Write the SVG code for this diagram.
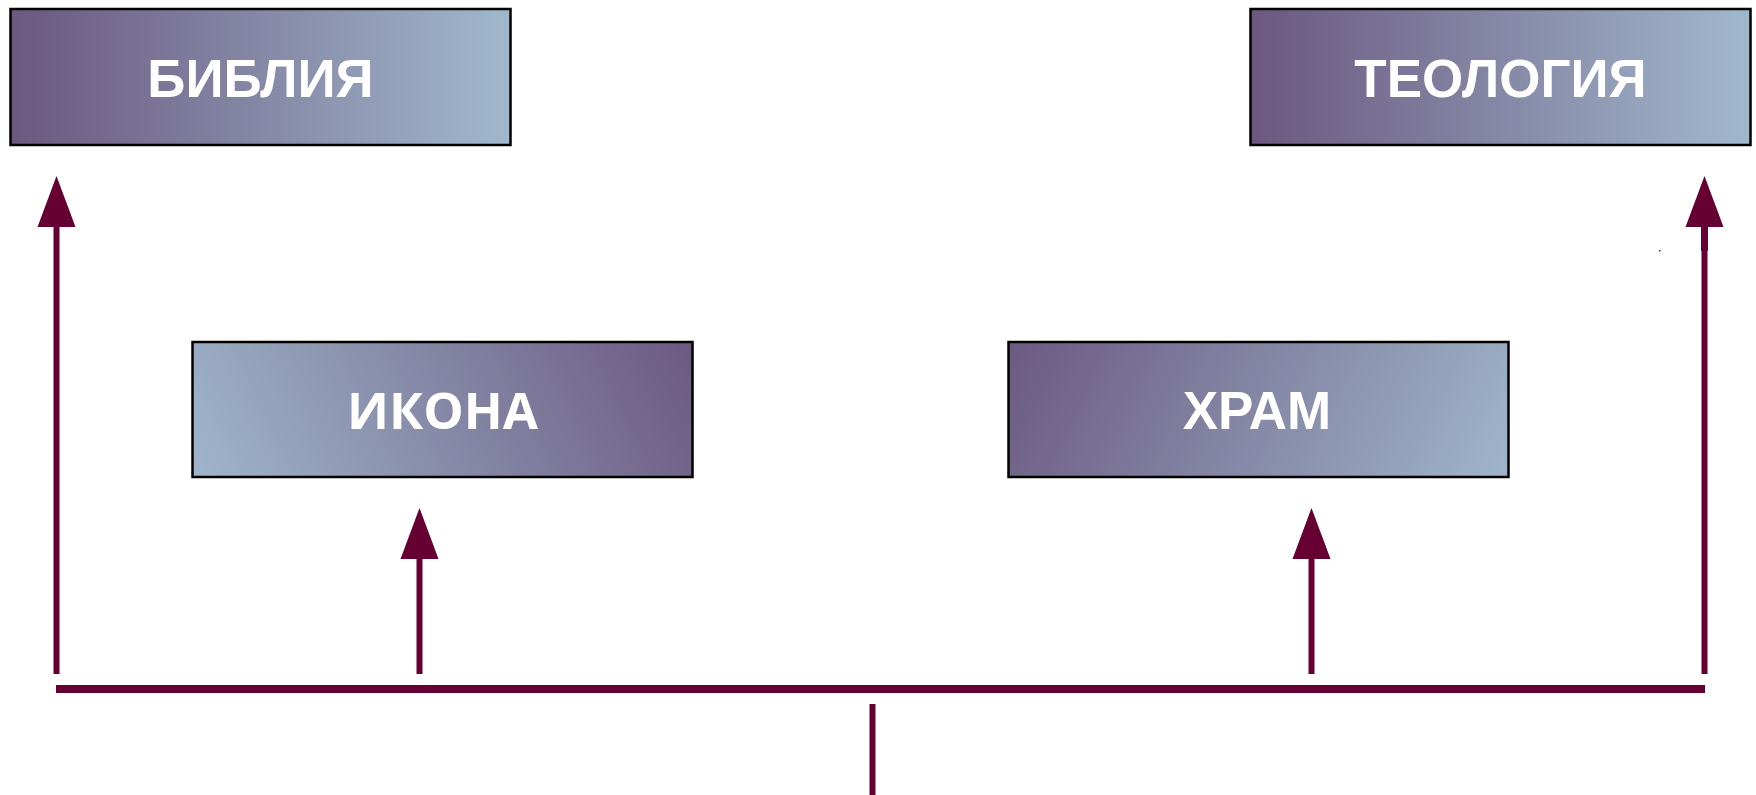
<svg xmlns="http://www.w3.org/2000/svg" width="1756" height="795" viewBox="0 0 1756 795">
<defs>
<linearGradient id="gH" x1="0" y1="0" x2="1" y2="0">
<stop offset="0" stop-color="#6b587f"/>
<stop offset="1" stop-color="#a0b8cd"/>
</linearGradient>
<linearGradient id="gIkona" gradientUnits="userSpaceOnUse" x1="200" y1="530" x2="685" y2="300">
<stop offset="0" stop-color="#a0b8cd"/>
<stop offset="1" stop-color="#6b587f"/>
</linearGradient>
<linearGradient id="gHram" gradientUnits="userSpaceOnUse" x1="1015" y1="300" x2="1500" y2="530">
<stop offset="0" stop-color="#6b587f"/>
<stop offset="1" stop-color="#a0b8cd"/>
</linearGradient>
</defs>
<style>
.box{stroke:#000;stroke-width:2.5}
.lbl{font-family:"Liberation Sans",Arial,sans-serif;font-weight:bold;font-size:53px;fill:#fff;text-anchor:middle}
.os{font-family:"Open Sans","Liberation Sans",sans-serif;font-weight:bold;font-size:51px}
.ln{stroke:#660033;stroke-width:6;fill:none}
.hd{fill:#660033}
</style>
<g id="node-biblia">
<rect class="box" x="10.5" y="9" width="500" height="136" fill="url(#gH)"/>
<text class="lbl" x="260.5" y="97">БИБЛИЯ</text>
</g>
<g id="node-teologia">
<rect class="box" x="1250.5" y="9" width="500" height="136" fill="url(#gH)"/>
<text class="lbl" x="1500.5" y="97">ТЕОЛОГИЯ</text>
</g>
<g id="node-ikona">
<rect class="box" x="192.5" y="342" width="500" height="135" fill="url(#gIkona)"/>
<text class="lbl os" x="442.5" y="429">ИКОНА</text>
</g>
<g id="node-hram">
<rect class="box" x="1008.5" y="342" width="500" height="135" fill="url(#gHram)"/>
<text class="lbl" x="1257" y="429">ХРАМ</text>
</g>
<g id="connectors">
<line class="ln" x1="56" y1="689" x2="1705" y2="689" style="stroke-width:8"/>
<line class="ln" x1="872.5" y1="704" x2="872.5" y2="795"/>
<line class="ln" x1="56.5" y1="674" x2="56.5" y2="225"/>
<polygon class="hd" points="56.5,176 75.5,227 37.5,227"/>
<line class="ln" x1="419.5" y1="674" x2="419.5" y2="557"/>
<polygon class="hd" points="419.5,508 438.5,559 400.5,559"/>
<line class="ln" x1="1311.5" y1="674" x2="1311.5" y2="557"/>
<polygon class="hd" points="1311.5,508 1330.5,559 1292.5,559"/>
<line class="ln" x1="1704.5" y1="674" x2="1704.5" y2="225"/>
<rect class="hd" x="1701" y="225" width="7" height="26"/>
<polygon class="hd" points="1704.5,176 1723.5,227 1685.5,227"/>
</g>
<rect x="1659" y="250" width="1.5" height="1.5" fill="#333"/>
</svg>
